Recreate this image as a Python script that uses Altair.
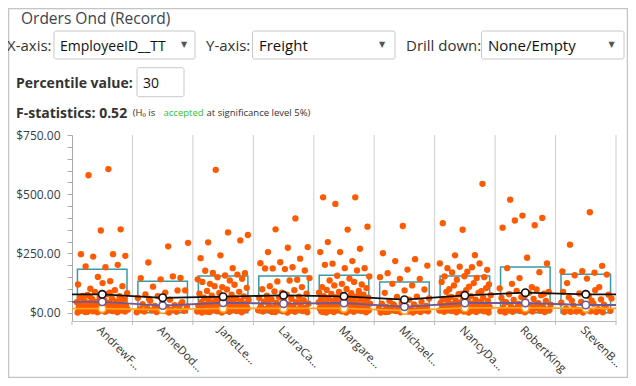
import altair as alt
import pandas as pd

EMPLOYEES = ["AndrewF…", "AnneDod…", "JanetLe…", "LauraCa…", "Margare…",
             "Michael…", "NancyDa…", "RobertKing", "StevenB…"]

FREIGHT_ANDREW = [606, 580, 352, 347, 247, 247, 237, 240, 192, 195, 202, 151, 119, 133, 101, 112, 125, 71,
                  95, 88, 82, 78, 75, 70, 66, 64, 60, 58, 55, 52, 50, 48, 46, 44, 42, 40, 38, 36, 35, 33,
                  31, 30, 28, 27, 25, 24, 22, 21, 20, 19, 18, 16, 15, 14, 13, 12, 11, 10, 9, 8, 7, 6, 5,
                  4, 3, 2, 1.5, 1, 85, 68, 57, 47, 41, 34, 26, 17, 8.5, 3.5]
FREIGHT_ANNE = [295, 280, 212, 147, 141, 146, 153, 110, 94, 85, 77, 94,
                70, 62, 55, 50, 45, 40, 36, 32, 29, 26, 23, 20, 18, 16, 14, 12, 10, 8, 7, 5, 4, 3, 2, 1,
                58, 38, 24, 11]
FREIGHT_JANET = [603, 328, 339, 297, 305, 242, 230, 188, 168, 167, 157, 177, 161, 150, 141, 136, 122, 143, 108,
                 130, 118, 112, 105, 98, 92, 88, 84, 80,
                 76, 72, 69, 66, 63, 60, 58, 55, 53, 51, 49, 47, 45, 43, 41, 39, 37, 35, 33, 31, 29, 27, 25,
                 24, 22, 21, 20, 19, 18, 17, 16, 15, 14, 13, 12, 11, 10, 9, 8, 7, 6, 5, 4, 3, 2, 1, 0.5,
                 62, 44, 28, 12.5, 4.5]
FREIGHT_LAURA = [398, 352, 277, 274, 256, 228, 213, 209, 192, 187, 178, 184, 187, 139, 132, 146, 136, 112, 108, 85, 99,
                 95, 90, 80, 76, 72, 68, 65, 62, 59, 56, 53, 50, 47, 44, 41, 38, 35, 33, 30, 28, 26, 24, 22,
                 20, 18, 16, 14, 12, 10, 9, 8, 7, 6, 5, 4, 3, 2, 1, 58, 43, 31, 19, 11, 3.5]
FREIGHT_MARGARET = [487, 487, 459, 363, 351, 298, 270, 256, 256, 218, 207, 188, 188, 202, 178, 156, 153, 144, 136,
                    119, 122, 108, 130, 115, 104, 100, 96, 92, 88, 85,
                    82, 79, 76, 73, 70, 68, 66, 64, 62, 60, 58, 56, 54, 52, 50, 48, 46, 44, 42, 40, 38, 36, 34,
                    32, 30, 29, 27, 26, 24, 23, 21, 20, 19, 18, 17, 16, 15, 14, 13, 12, 11, 10, 9, 8, 7, 6, 5,
                    4, 3, 2, 1, 0.5, 71, 57, 43, 33, 22, 12, 6.5, 2.5]
FREIGHT_MICHAEL = [366, 251, 226, 218, 199, 182, 167, 143, 143, 150, 115, 122, 98, 94, 84, 68, 67,
                   60, 55, 50, 46, 42, 38, 35, 32, 29, 26, 24, 22, 20, 18, 16, 14, 12, 10, 9, 8, 7, 6, 5, 4,
                   3, 2, 1, 0.5, 36, 19, 11, 3]
FREIGHT_NANCY = [544, 350, 378, 243, 242, 181, 173, 188, 208, 194, 208, 192, 170, 150, 154, 153, 147, 139, 119,
                 110, 99, 91, 80, 130, 125, 115, 104, 95, 88,
                 84, 78, 74, 70, 67, 64, 61, 58, 55, 52, 50, 48, 46, 44, 42, 40, 38, 36, 34, 32, 30, 28, 26,
                 24, 22, 20, 19, 18, 17, 16, 15, 14, 13, 12, 11, 10, 9, 8, 7, 6, 5, 4, 3, 2, 1, 0.5,
                 63, 47, 29, 13]
FREIGHT_ROBERT = [477, 400, 410, 359, 369, 389, 208, 232, 188, 171, 146, 103, 108, 122, 80, 70, 43,
                  98, 92, 88, 84, 78, 74, 66, 62, 58, 54, 50, 47, 44, 40, 37, 34, 31, 28, 25, 22, 20, 18,
                  16, 14, 12, 10, 8, 7, 6, 5, 4, 3, 2, 1, 35, 23, 11]
FREIGHT_STEVEN = [424, 287, 198, 175, 174, 169, 158, 161, 144, 125, 108, 81, 60, 51, 51, 34, 9, 3, 3, 5,
                  76, 70, 65, 56, 46, 42, 38, 30, 26, 22, 18, 15, 12, 8, 6, 4, 2, 1, 88, 95]

FREIGHT = [FREIGHT_ANDREW, FREIGHT_ANNE, FREIGHT_JANET, FREIGHT_LAURA, FREIGHT_MARGARET,
           FREIGHT_MICHAEL, FREIGHT_NANCY, FREIGHT_ROBERT, FREIGHT_STEVEN]

MEAN = [77.7, 63, 67.5, 73.4, 69, 55, 73.4, 84.4, 77.7]
MEDIAN = [46, 30, 42, 38, 41, 25, 41, 41, 32.5]
PCT30 = [17, 13, 18, 18, 18, 9, 20, 20, 18]
BOX_TOP = [183, 132.5, 155, 155, 158, 130, 155, 193, 162]

W, H = 544, 186
FONT = "Open Sans"

# ---- data tables ----
rows = []
for i, vals in enumerate(FREIGHT):
    for k, v in enumerate(vals):
        frac = ((k + 1) * 0.6180339887 + i * 0.37) % 1.0
        rows.append({"emp": EMPLOYEES[i], "xpos": i + 0.07 + 0.86 * frac, "freight": v})
pts = pd.DataFrame(rows)

boxes = pd.DataFrame({"x0": [i + 0.09 for i in range(9)], "x1": [i + 0.91 for i in range(9)],
                      "y0": [0] * 9, "top": BOX_TOP})


def series_df(vals):
    xs = [0] + [i + 0.5 for i in range(9)] + [9]
    ys = [vals[0]] + list(vals) + [vals[-1]]
    return pd.DataFrame({"xpos": xs, "value": ys}), pd.DataFrame({"xpos": [i + 0.5 for i in range(9)], "value": vals})


label_arr = "[" + ",".join("'" + e + "'" for e in EMPLOYEES) + "]"
X_AXIS = alt.Axis(values=[i + 0.5 for i in range(9)], labelExpr=label_arr + "[floor(datum.value)]",
                  ticks=False, grid=False, domainColor="#bbbbbb", title=None, labelAngle=45,
                  labelAlign="left", labelBaseline="top", labelPadding=3, labelFont=FONT,
                  labelFontSize=11.5, labelColor="#333333", labelOverlap=False, labelLimit=200)
X_SCALE = alt.Scale(domain=[0, 9], nice=False, zero=False)
Y_AXIS = alt.Axis(values=list(range(0, 751, 50)),
                  labelExpr="datum.value % 250 == 0 ? format(datum.value, '$,.2f') : ''",
                  grid=False, tickSize=5, tickColor="#aaaaaa", domainColor="#aaaaaa", title=None,
                  labelFont=FONT, labelFontSize=12, labelColor="#333c4a", labelPadding=7,
                  labelOverlap=False)
Y_SCALE = alt.Scale(domain=[-35, 750], nice=False, zero=False)


def X(field):
    return alt.X(field, type="quantitative", scale=X_SCALE, axis=X_AXIS)


def Y(field):
    return alt.Y(field, type="quantitative", scale=Y_SCALE, axis=Y_AXIS)


one = pd.DataFrame({"a": [0]})


def txt(s, x, y, size=14, weight="normal", color="#333333", font=FONT, align="left", baseline="alphabetic"):
    return alt.Chart(pd.DataFrame({"t": [s]})).mark_text(
        align=align, baseline=baseline, fontSize=size, fontWeight=weight, color=color, font=font
    ).encode(x=alt.value(x), y=alt.value(y), text="t:N")


def box(x0, x1, y0, y1, stroke="#c8c8c8"):
    return alt.Chart(one).mark_rect(fill="white", stroke=stroke, strokeWidth=1, cornerRadius=2).encode(
        x=alt.value(x0), x2=alt.value(x1), y=alt.value(y0), y2=alt.value(y1))


layers = []
# outer frame
layers.append(alt.Chart(one).mark_rect(fillOpacity=0, stroke="#c4c4c4", strokeWidth=1.5).encode(
    x=alt.value(-63.5), x2=alt.value(555.5), y=alt.value(-126.5), y2=alt.value(242.5)))

# header UI
layers += [
    txt("Orders Ond (Record)", -51, -111, size=15.5, color="#3b4350"),
    txt("X-axis:", -65, -84.3, size=15),
    box(-18, 123, -104, -76),
    txt("EmployeeID__TT", -12, -84, size=14, color="#111111"),
    txt("▼", 112, -90, size=8, color="#555555", font="DejaVu Sans", align="center", baseline="middle"),
    txt("Y-axis:", 134, -84.3, size=15),
    box(180.5, 323, -104, -76),
    txt("Freight", 187, -84, size=15, color="#111111"),
    txt("▼", 310, -90, size=8, color="#555555", font="DejaVu Sans", align="center", baseline="middle"),
    txt("Drill down:", 334, -84.3, size=15),
    box(409.5, 552, -104, -76),
    txt("None/Empty", 416, -84, size=15, color="#111111"),
    txt("▼", 539.5, -90, size=8, color="#555555", font="DejaVu Sans", align="center", baseline="middle"),
    txt("Percentile value:", -56, -47, size=14, weight="bold"),
    box(65, 112, -67.3, -38.3),
    txt("30", 71, -47, size=14, color="#111111"),
    txt("F-statistics: 0.52", -56, -17.3, size=14, weight="bold"),
    txt("(H₀ is", 60.7, -19, size=9.5),
    txt("accepted", 91.5, -19, size=9.5, color="#2fbf2f"),
    txt("at significance level 5%)", 134.5, -19, size=9.5),
]

# gridlines at band boundaries and small ticks
bounds = pd.DataFrame({"xpos": list(range(0, 10))})
layers.append(alt.Chart(bounds[bounds.xpos > 0]).mark_rule(color="#cfcfcf", strokeWidth=1).encode(
    x=X("xpos"), y=alt.value(0), y2=alt.value(H)))
layers.append(alt.Chart(bounds).mark_rule(color="#bbbbbb", strokeWidth=1).encode(
    x=X("xpos"), y=alt.value(H), y2=alt.value(H + 4)))

# boxes
layers.append(alt.Chart(boxes).mark_rect(fillOpacity=0, stroke="#3a9aa8", strokeWidth=1.5).encode(
    x=X("x0"), x2="x1", y=Y("y0"), y2="top"))

# points
layers.append(alt.Chart(pts).mark_circle(size=40, color="#ff5a00", opacity=1).encode(
    x=X("xpos"), y=Y("freight")))

# series lines with circles
for vals, col in [(PCT30, "#ffa51c"), (MEDIAN, "#6e5a99"), (MEAN, "#111111")]:
    ldf, pdf = series_df(vals)
    layers.append(alt.Chart(ldf).mark_line(color=col, strokeWidth=1.8).encode(x=X("xpos"), y=Y("value")))
    layers.append(alt.Chart(pdf).mark_point(filled=True, fill="white", stroke=col, strokeWidth=1.6,
                                            size=55, opacity=1).encode(x=X("xpos"), y=Y("value")))

chart = alt.layer(*layers).properties(
    width=W, height=H,
    padding={"left": 64, "top": 127, "right": 12, "bottom": 57},
    autosize=alt.AutoSizeParams(type="none"),
    background="white",
).configure_view(stroke=None)

chart.save("out.html", embed_options={"renderer": "svg", "actions": False})
